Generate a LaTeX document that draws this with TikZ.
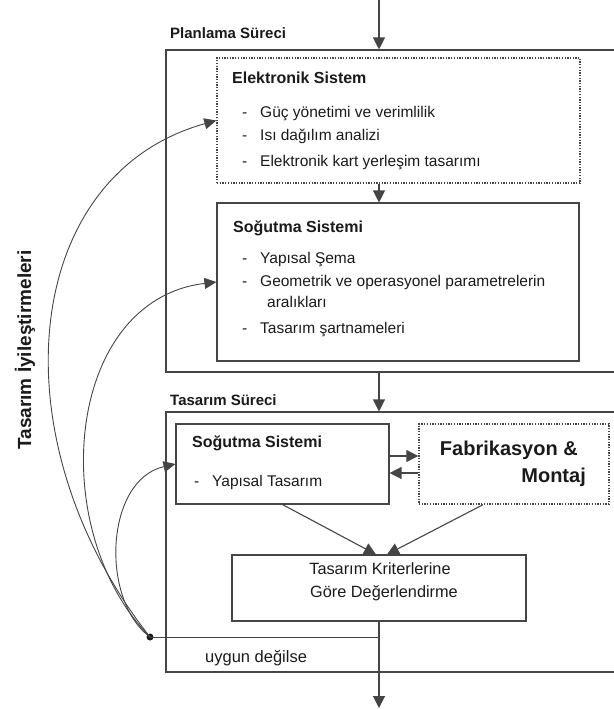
\documentclass[tikz,border=0pt]{standalone}
\usepackage{fontspec}
\setmainfont{Liberation Sans}
\usetikzlibrary{arrows.meta}
\definecolor{ln}{HTML}{454545}
\definecolor{tx}{HTML}{1A1A1A}
\begin{document}
\begin{tikzpicture}[x=1pt,y=-1pt,
 box/.style={draw=ln, line width=1.1pt, inner sep=0pt},
 dotbox/.style={draw=ln, line width=1.4pt, dash pattern=on 1.3pt off 1.4pt, inner sep=0pt},
 arr/.style={draw=ln, line width=1.1pt, -{Triangle[length=12pt,width=12pt]}},
 carr/.style={draw=ln, line width=0.9pt, -{Triangle[length=12pt,width=11pt]}},
 conn/.style={draw=ln, line width=1pt},
 lbl/.style={anchor=base west, inner sep=0pt, text=tx, font=\fontsize{15}{18}\selectfont\bfseries},
 hdr/.style={anchor=base west, inner sep=0pt, text=tx, font=\fontsize{16}{19}\selectfont\bfseries},
 item/.style={anchor=base west, inner sep=0pt, text=tx, font=\fontsize{15.5}{18}\selectfont},
 evtxt/.style={anchor=base, inner sep=0pt, text=tx, font=\fontsize{16.3}{19}\selectfont},
 bigtxt/.style={anchor=base east, inner sep=0pt, text=tx, font=\fontsize{20}{24}\selectfont\bfseries},
]
\useasboundingbox (0,0) rectangle (613,709);

% boxes
\node[box, minimum width=454pt, minimum height=322pt] (plan) at (393,211) {};
\node[dotbox, minimum width=363pt, minimum height=125pt] (es) at (398.5,120.5) {};
\node[box, minimum width=362pt, minimum height=158pt] (ss1) at (398,282) {};
\node[box, minimum width=454pt, minimum height=260pt] (tas) at (393,542) {};
\node[box, minimum width=213pt, minimum height=80pt] (ss2) at (282.5,464) {};
\node[dotbox, minimum width=190pt, minimum height=80pt] (fab) at (514,464) {};
\node[box, minimum width=294pt, minimum height=66pt] (ev) at (379,588) {};

% texts
\node[lbl] (lplan) at (170,39) {Planlama Süreci};
\node[hdr] (hes) at (232,84) {Elektronik Sistem};
\node[item] (es1) at (242,117) {\makebox[18pt][l]{-}Güç yönetimi ve verimlilik};
\node[item] (es2) at (242,140) {\makebox[18pt][l]{-}Isı dağılım analizi};
\node[item] (es3) at (242,166) {\makebox[18pt][l]{-}Elektronik kart yerleşim tasarımı};

\node[hdr] (hss1) at (233,232) {Soğutma Sistemi};
\node[item] (s11) at (242,263) {\makebox[18pt][l]{-}Yapısal Şema};
\node[item] (s12) at (242,286) {\makebox[18pt][l]{-}Geometrik ve operasyonel parametrelerin};
\node[item] (s13) at (267,307) {aralıkları};
\node[item] (s14) at (242,333) {\makebox[18pt][l]{-}Tasarım şartnameleri};

\node[lbl] (ltas) at (170,405) {Tasarım Süreci};
\node[hdr] (hss2) at (192,447) {Soğutma Sistemi};
\node[item] (s21) at (194,486) {\makebox[18pt][l]{-}Yapısal Tasarım};

\node[bigtxt] (f1) at (578,455) {Fabrikasyon \&};
\node[bigtxt] (f2) at (586,482) {Montaj};

\node[evtxt] (e1) at (380,574) {Tasarım Kriterlerine};
\node[evtxt] (e2) at (384,597) {Göre Değerlendirme};

\node[anchor=base west, inner sep=0pt, text=tx, font=\fontsize{16.5}{20}\selectfont] (uyg) at (205,662) {uygun değilse};

\node[rotate=90, inner sep=0pt, text=tx, font=\fontsize{19}{23}\selectfont\bfseries] (rot) at (25,350) {Tasarım İyileştirmeleri};

% main flow
\coordinate (top) at (379,0);
\coordinate (bot) at (379,708);
\draw[arr] (top) -- (top |- plan.north);
\draw[arr] (top |- es.south) -- (top |- ss1.north);
\draw[arr] (top |- plan.south) -- (top |- tas.north);
\draw[arr] (ev.south) -- (bot);

\draw[arr] ([yshift=8pt]ss2.east) -- ([yshift=8pt]ss2.east -| fab.west);
\draw[arr] ([yshift=-9pt]ss2.east -| fab.west) -- ([yshift=-9pt]ss2.east);

\draw[arr] (ss2.south) -- ([xshift=-3pt]ev.north);
\draw[arr] ([xshift=-31pt]fab.south) -- ([xshift=8pt]ev.north);

% feedback
\node[circle, fill=tx, minimum size=7pt, inner sep=0pt] (dot) at (150,637) {};
\draw[conn] (ev.south |- dot) -- (dot.center);
\draw[carr] (dot.center) .. controls (-5,440) and (20,175) .. (es.west);
\draw[carr] (dot.center) .. controls (45,530) and (65,300) .. (ss1.west);
\draw[carr] (dot.center) .. controls (100,600) and (105,480) .. (ss2.west);
\end{tikzpicture}
\end{document}
